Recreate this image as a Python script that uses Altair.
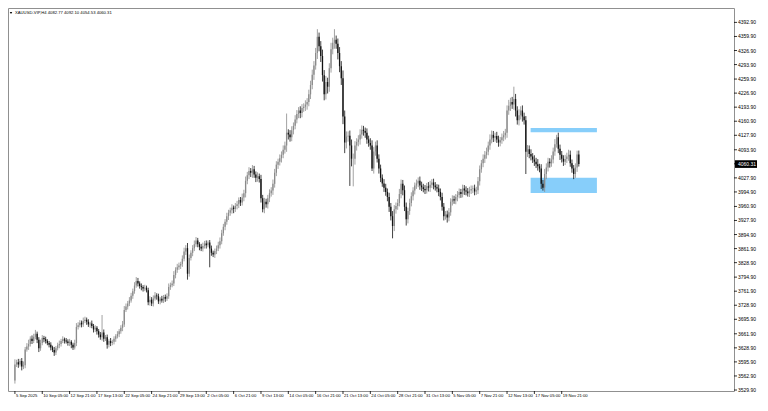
import altair as alt
import pandas as pd

# ---- data (XAUUSD H4 candles) ----
closes = [
    3590, 3595, 3590, 3598, 3585, 3588, 3625, 3632, 3638, 3650,
    3645, 3655, 3662, 3648, 3628, 3640, 3652, 3649, 3645, 3640,
    3636, 3630, 3624, 3618, 3628, 3635, 3638, 3645, 3649, 3646,
    3644, 3640, 3643, 3636, 3630, 3640, 3678, 3682, 3688, 3684,
    3692, 3695, 3690, 3684, 3686, 3680, 3672, 3676, 3668, 3660,
    3654, 3665, 3650, 3654, 3636, 3645, 3640, 3643, 3650, 3656,
    3661, 3668, 3676, 3684, 3718, 3726, 3733, 3740, 3751, 3762,
    3775, 3786, 3780, 3774, 3772, 3768, 3770, 3764, 3736, 3742,
    3733, 3745, 3752, 3750, 3738, 3744, 3740, 3748, 3744, 3750,
    3772, 3776, 3780, 3800, 3812, 3818, 3822, 3826, 3838, 3855,
    3863, 3803, 3840, 3852, 3863, 3872, 3881, 3872, 3866, 3862,
    3868, 3874, 3870, 3876, 3862, 3852, 3848, 3856, 3862, 3870,
    3879, 3898, 3913, 3925, 3938, 3946, 3952, 3958, 3955, 3962,
    3966, 3976, 3970, 3982, 3992, 4021, 4034, 4044, 4040, 4048,
    4036, 4028, 4032, 4025, 3980, 3954, 3972, 3966, 3980, 3992,
    3998, 4014, 4040, 4059, 4066, 4074, 4082, 4094, 4104, 4134,
    4130, 4123, 4140, 4150, 4165, 4178, 4186, 4180, 4192, 4195,
    4200, 4206, 4224, 4246, 4270, 4292, 4321, 4359, 4337, 4314,
    4269, 4224, 4253, 4242, 4285, 4330, 4345, 4352, 4343, 4321,
    4290, 4262, 4172, 4111, 4125, 4127, 4104, 4073, 4073, 4104,
    4112, 4118, 4130, 4141, 4138, 4134, 4118, 4110, 4104, 4050,
    4090, 4104, 4073, 4050, 4028, 4015, 4005, 3995, 3983, 3960,
    3938, 3915, 3954, 3962, 3969, 3990, 4014, 3999, 3960, 3931,
    3950, 3969, 3985, 3998, 4010, 4015, 4021, 4010, 4006, 4002,
    3999, 4008, 4005, 4012, 4017, 4010, 4006, 4003, 3995, 3983,
    3960, 3938, 3942, 3935, 3947, 3972, 3978, 3975, 3983, 3988,
    3995, 3990, 4003, 3998, 3996, 3992, 3998, 4002, 4003, 3996,
    3999, 4020, 4048, 4062, 4073, 4082, 4089, 4104, 4118, 4129,
    4122, 4126, 4118, 4111, 4116, 4123, 4128, 4134, 4186, 4197,
    4206, 4200, 4213, 4186, 4163, 4175, 4186, 4172, 4163, 4089,
    4095, 4084, 4078, 4071, 4066, 4060, 4055, 4050, 4014, 4005,
    4037, 4052, 4066, 4062, 4071, 4090, 4107, 4123, 4096, 4082,
    4073, 4066, 4072, 4078, 4082, 4062, 4050, 4037, 4052, 4082.77,
    4060.31,
]

upper_wicks = [
    12, 6, 8, 5, 7, 9, 6, 8, 10, 6,
    8, 7, 9, 5, 6, 8, 7, 5, 6, 4,
    5, 6, 4, 7, 5, 6, 8, 5, 7, 4,
    6, 5, 7, 4, 5, 8, 9, 7, 6, 5,
    8, 7, 5, 6, 4, 7, 5, 6, 4, 5,
    6, 41, 7, 5, 6, 4, 7, 5, 6, 5,
    7, 5, 6, 8, 9, 7, 6, 8, 7, 6,
    8, 9, 7, 5, 6, 4, 7, 5, 6, 8,
    6, 7, 8, 5, 6, 4, 7, 5, 6, 7,
    8, 6, 7, 9, 6, 8, 7, 5, 8, 9,
    7, 12, 8, 6, 7, 9, 8, 6, 5, 7,
    8, 6, 7, 5, 6, 7, 5, 6, 7, 8,
    9, 8, 7, 6, 8, 7, 6, 8, 5, 7,
    8, 6, 7, 9, 8, 10, 8, 9, 7, 10,
    8, 7, 9, 6, 10, 8, 9, 7, 8, 9,
    8, 10, 9, 8, 7, 9, 8, 10, 9, 45,
    8, 10, 9, 8, 10, 9, 8, 10, 9, 8,
    10, 9, 11, 10, 12, 10, 12, 18, 10, 12,
    15, 12, 14, 10, 12, 15, 12, 25, 10, 12,
    14, 12, 18, 14, 12, 10, 12, 14, 12, 10,
    9, 10, 12, 10, 9, 8, 10, 9, 11, 12,
    10, 9, 12, 10, 9, 8, 10, 9, 8, 10,
    9, 12, 10, 8, 9, 12, 10, 9, 11, 10,
    8, 10, 9, 8, 7, 9, 8, 10, 9, 8,
    9, 8, 10, 9, 8, 9, 8, 7, 9, 8,
    10, 9, 8, 9, 10, 8, 9, 8, 7, 9,
    8, 7, 9, 8, 10, 8, 9, 8, 7, 9,
    8, 10, 9, 8, 10, 9, 10, 9, 12, 10,
    9, 8, 10, 9, 8, 9, 10, 9, 12, 14,
    10, 12, 29, 12, 10, 14, 10, 12, 9, 10,
    10, 9, 11, 8, 10, 9, 12, 6, 10, 9,
    12, 10, 9, 8, 10, 9, 12, 6, 11, 10,
    9, 8, 10, 9, 12, 10, 9, 8, 10, 9,
    9.33,
]

lower_wicks = [
    7, 6, 8, 5, 9, 6, 7, 5, 8, 6,
    7, 5, 6, 8, 9, 6, 5, 7, 6, 5,
    6, 7, 5, 8, 6, 5, 7, 6, 5, 7,
    5, 6, 7, 8, 6, 5, 7, 6, 5, 7,
    6, 5, 7, 6, 8, 5, 7, 6, 8, 7,
    6, 8, 7, 5, 9, 6, 7, 5, 6, 7,
    5, 7, 6, 8, 6, 5, 7, 6, 5, 7,
    6, 5, 7, 6, 8, 7, 6, 5, 7, 8,
    6, 7, 5, 8, 6, 7, 5, 6, 7, 5,
    6, 7, 5, 6, 8, 7, 6, 8, 7, 6,
    8, 14, 7, 6, 8, 7, 6, 7, 8, 6,
    7, 6, 8, 5, 44, 7, 6, 8, 7, 6,
    8, 7, 6, 8, 7, 9, 7, 8, 10, 7,
    8, 9, 8, 7, 9, 10, 8, 9, 10, 12,
    8, 10, 9, 8, 10, 7, 9, 8, 10, 9,
    8, 10, 9, 8, 10, 9, 10, 8, 9, 15,
    12, 10, 9, 10, 8, 9, 10, 12, 10, 9,
    10, 12, 10, 11, 10, 12, 10, 14, 12, 14,
    15, 14, 12, 16, 12, 10, 12, 14, 12, 15,
    14, 16, 18, 25, 14, 12, 95, 18, 65, 14,
    12, 10, 12, 10, 11, 12, 10, 9, 10, 6,
    12, 10, 9, 12, 10, 8, 10, 9, 10, 12,
    10, 29, 12, 10, 9, 8, 10, 12, 10, 15,
    10, 9, 8, 10, 9, 8, 9, 10, 9, 8,
    9, 8, 9, 10, 8, 9, 8, 9, 10, 8,
    9, 10, 8, 12, 9, 8, 9, 8, 9, 10,
    8, 9, 8, 10, 9, 8, 9, 8, 10, 9,
    8, 9, 10, 8, 9, 10, 9, 8, 10, 9,
    10, 9, 8, 10, 9, 8, 9, 10, 12, 10,
    12, 10, 12, 14, 10, 12, 10, 12, 10, 52,
    12, 10, 9, 8, 10, 9, 10, 9, 12, 7,
    10, 12, 9, 10, 8, 9, 10, 8, 10, 12,
    9, 10, 8, 9, 10, 8, 10, 12, 9, 10,
    5.78,
]

first_open = 3552.0

x_tick_bars = [0, 16, 32, 48, 64, 80, 96, 112, 128, 144, 160, 176, 192,
               208, 224, 240, 256, 272, 288, 304, 320]
x_tick_labels = ["5 Sep 2025", "10 Sep 05:00", "12 Sep 21:00", "17 Sep 13:00",
                 "22 Sep 05:00", "24 Sep 21:00", "29 Sep 13:00", "2 Oct 05:00",
                 "6 Oct 21:00", "9 Oct 13:00", "14 Oct 05:00", "16 Oct 21:00",
                 "21 Oct 13:00", "24 Oct 05:00", "28 Oct 21:00", "31 Oct 13:00",
                 "5 Nov 05:00", "7 Nov 21:00", "12 Nov 13:00", "17 Nov 05:00",
                 "19 Nov 21:00"]
y_tick_values = [4392.9, 4359.9, 4326.9, 4293.9, 4259.9, 4226.9, 4193.9, 4160.9,
                 4127.9, 4093.9, 4060.9, 4027.9, 3994.9, 3960.9, 3927.9, 3894.9,
                 3861.9, 3828.9, 3794.9, 3761.9, 3728.9, 3695.9, 3661.9, 3628.9,
                 3595.9, 3562.9, 3529.9]

zone_names = ["supply", "demand"]
zone_start_bar = [301.8, 301.8]
zone_end_bar = [340.6, 340.6]
zone_top = [4145.0, 4028.5]
zone_bottom = [4135.3, 3992.5]

title_text = "XAUUSD-VIP,H4  4082.77 4092.10 4054.53 4060.31"
last_price_text = "4060.31"

# ---- build tables ----
opens = [first_open] + closes[:-1]
rows = []
for i, (o, c, u, d) in enumerate(zip(opens, closes, upper_wicks, lower_wicks)):
    rows.append({"bar": i, "open": o, "close": c,
                 "high": max(o, c) + u, "low": min(o, c) - d,
                 "dir": "up" if c >= o else "down"})
df = pd.DataFrame(rows)

zones = pd.DataFrame({"name": zone_names, "x1": zone_start_bar, "x2": zone_end_bar,
                      "y1": zone_top, "y2": zone_bottom})

ytab = pd.DataFrame({"v": y_tick_values, "t": [f"{v:.2f}" for v in y_tick_values]})
xtab = pd.DataFrame({"b": x_tick_bars, "t": x_tick_labels})

last_close = closes[-1]
box_half = 9.0
pbox = pd.DataFrame({"p": [last_close], "top": [last_close + box_half],
                     "bot": [last_close - box_half], "t": [last_price_text]})
title_df = pd.DataFrame({"t": [title_text]})

W, H = 726, 383
FONT = "Liberation Sans"
FS = 5

xs = alt.Scale(domain=[-1.12, 417.9], nice=False, zero=False)
ys = alt.Scale(domain=[3527.6, 4426.7], nice=False, zero=False)

col = alt.Color("dir:N", scale=alt.Scale(domain=["up", "down"],
                                         range=["#8a8a8a", "#111111"]), legend=None)

zone_layer = alt.Chart(zones).mark_rect(color="#87CEFA").encode(
    x=alt.X("x1:Q", scale=xs, axis=None), x2="x2:Q",
    y=alt.Y("y1:Q", scale=ys, axis=None), y2="y2:Q")

base = alt.Chart(df)
wicks = base.mark_rule(strokeWidth=0.8).encode(
    x=alt.X("bar:Q", scale=xs, axis=None),
    y=alt.Y("low:Q", scale=ys, axis=None), y2="high:Q", color=col)
bodies = base.mark_bar(size=1.3).encode(
    x=alt.X("bar:Q", scale=xs, axis=None), y=alt.Y("open:Q", scale=ys, axis=None),
    y2="close:Q", color=col)

# right price scale: ticks + labels
yticks = alt.Chart(ytab).mark_rule(color="#000000", strokeWidth=0.8).encode(
    x=alt.value(W), x2=alt.value(W + 3), y=alt.Y("v:Q", scale=ys, axis=None))
ylabels = alt.Chart(ytab).mark_text(align="left", baseline="middle", fontSize=FS,
                                    font=FONT, color="#000000").encode(
    x=alt.value(W + 4), y=alt.Y("v:Q", scale=ys, axis=None), text="t:N")

# bottom time scale: ticks + labels
xticks = alt.Chart(xtab).mark_rule(color="#000000", strokeWidth=0.8).encode(
    x=alt.X("b:Q", scale=xs, axis=None), y=alt.value(H), y2=alt.value(H + 3))
xlabels = alt.Chart(xtab).mark_text(align="left", baseline="top", fontSize=4.2,
                                    font=FONT, color="#000000", dx=1).encode(
    x=alt.X("b:Q", scale=xs, axis=None), y=alt.value(H + 3), text="t:N")

box = alt.Chart(pbox).mark_rect(color="#000000").encode(
    x=alt.value(W + 1), x2=alt.value(W + 23),
    y=alt.Y("top:Q", scale=ys, axis=None), y2="bot:Q")
box_text = alt.Chart(pbox).mark_text(align="left", baseline="middle", color="#ffffff",
                                     fontSize=FS, font=FONT).encode(
    x=alt.value(W + 4), y=alt.Y("p:Q", scale=ys, axis=None), text="t:N")

title = alt.Chart(title_df).mark_text(align="left", baseline="middle", fontSize=4.2,
                                      font=FONT, color="#000000").encode(
    x=alt.value(7), y=alt.value(5), text="t:N")
tri = alt.Chart(title_df).mark_point(shape="triangle-down", filled=True, size=6,
                                     color="#000000", opacity=1).encode(
    x=alt.value(3), y=alt.value(5))

chart = alt.layer(zone_layer, wicks, bodies, yticks, ylabels, xticks, xlabels,
                  box, box_text, title, tri).properties(
    width=W, height=H, padding=0
).configure_view(stroke="#909090", strokeWidth=1)

chart.save("out.html", embed_options={"renderer": "svg", "actions": False})
